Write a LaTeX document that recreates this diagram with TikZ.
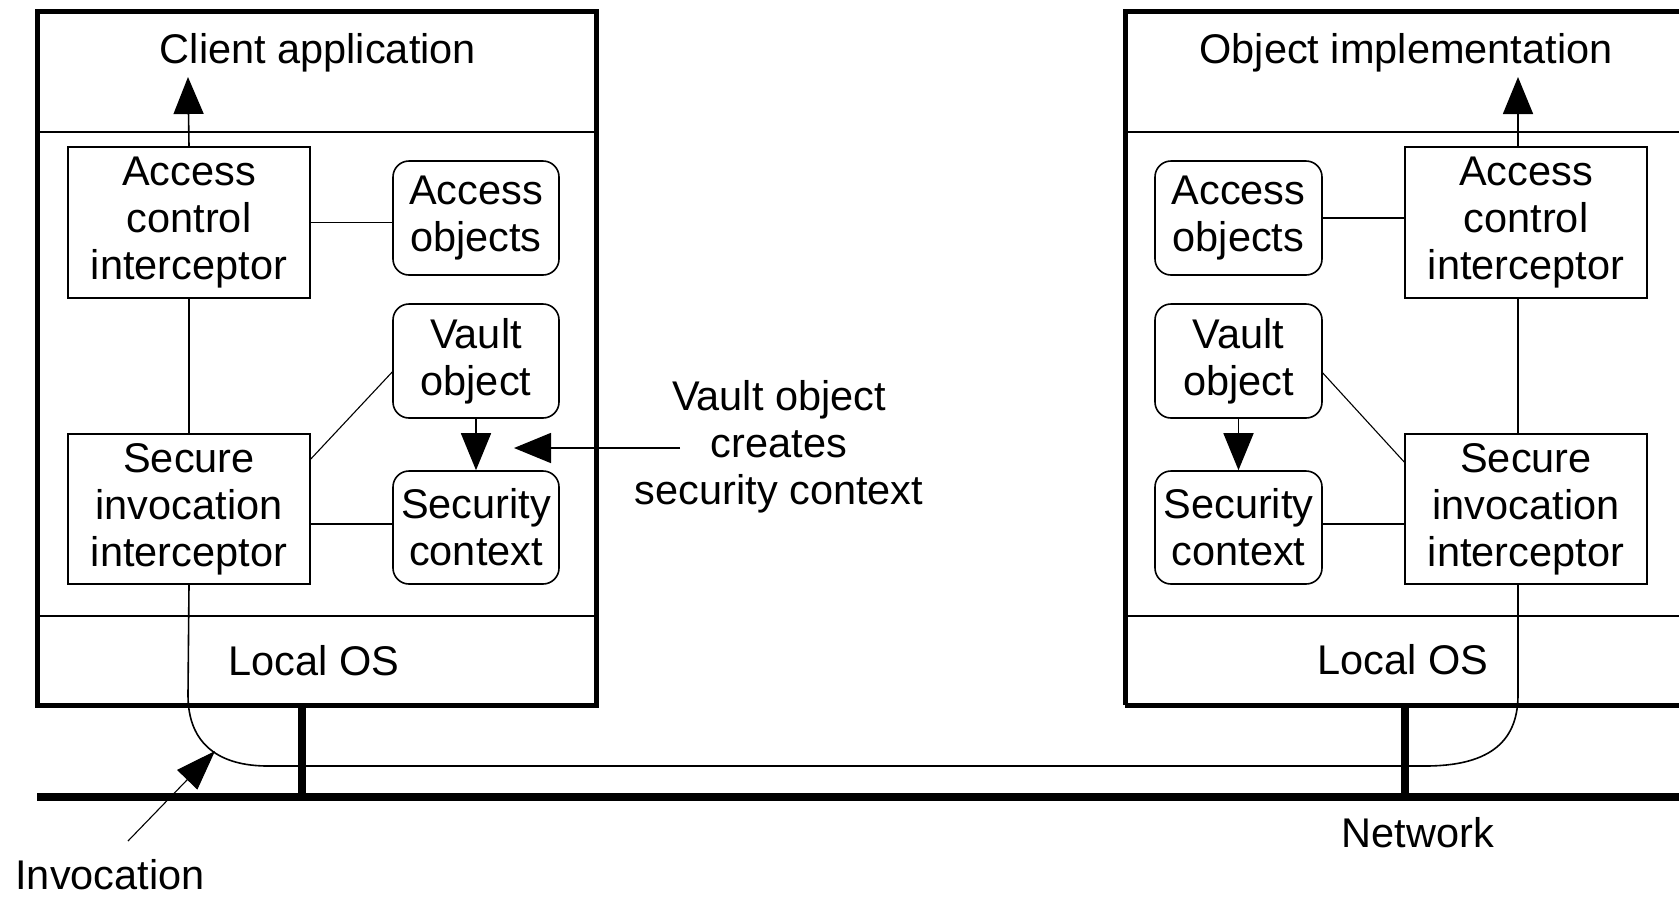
\documentclass[tikz,border=0pt]{standalone}
\usepackage{fontspec}
\setmainfont{Liberation Sans}
\usetikzlibrary{arrows.meta,calc}

\tikzset{
  lbl/.style={font=\fontsize{41.5pt}{47pt}\selectfont, inner sep=0pt, align=center},
  host/.style={line width=5pt},
  layer/.style={line width=1.8pt},
  plainbox/.style={draw, line width=1.6pt, lbl, minimum width=242pt, minimum height=151pt},
  objbox/.style={draw, line width=1.6pt, rounded corners=16pt, lbl, minimum width=166pt, minimum height=114pt},
  link/.style={line width=1.6pt},
  thinlink/.style={line width=1.1pt},
  flow/.style={line width=1.6pt, -{Triangle[length=37pt,width=30pt]}},
  bus/.style={line width=7.5pt},
}

\begin{document}
\begin{tikzpicture}[x=1pt,y=-1pt]
\useasboundingbox (0,0) rectangle (1679,898);
\clip (0,0) rectangle (1679,898);

% ---------- client host ----------
\draw[host] (37,11) rectangle (596,705);
\draw[layer] (37,132) -- (596,132);
\draw[layer] (37,616) -- (596,616);
\node[lbl, anchor=base] (capp) at (318,63) {Client application};
\node[lbl, anchor=base] (los1) at (314,675) {Local OS};

\node[plainbox] (aci1) at (189,222.5) {Access\\control\\interceptor};
\node[plainbox, minimum height=150pt] (sii1) at (189,509) {Secure\\invocation\\interceptor};
\node[objbox] (ao1) at (476,218) {Access\\objects};
\node[objbox] (vo1) at (476,361) {Vault\\object};
\node[objbox, minimum height=113pt] (sc1) at (476,527.5) {Security\\context};

\coordinate (up1) at (188,77);
\draw[flow] (aci1.north) -- (up1);
\draw[link] (aci1.east) -- (aci1.east -| ao1.west);
\draw[link] (aci1.south) -- (sii1.north);
\draw[thinlink] (sii1.east |- 0,459) -- (vo1.west |- 0,372);
\draw[flow] (vo1.south) -- (sc1.north);
\draw[link] (sii1.east |- 0,524) -- (sc1.west |- 0,524);

% ---------- server host ----------
\draw[host] (1125,705) -- (1125,11) -- (1700,11);
\draw[host] (1125,705) -- (1700,705);
\draw[layer] (1125,132) -- (1700,132);
\draw[layer] (1125,616) -- (1700,616);
\node[lbl, anchor=base] (oimpl) at (1406,63) {Object implementation};
\node[lbl, anchor=base] (los2) at (1403,674) {Local OS};

\node[plainbox] (aci2) at (1526,222.5) {Access\\control\\interceptor};
\node[plainbox, minimum height=150pt] (sii2) at (1526,509) {Secure\\invocation\\interceptor};
\node[objbox, minimum width=167pt] (ao2) at (1238.5,218) {Access\\objects};
\node[objbox, minimum width=167pt] (vo2) at (1238.5,361) {Vault\\object};
\node[objbox, minimum width=167pt, minimum height=113pt] (sc2) at (1238.5,527.5) {Security\\context};

\coordinate (spine2) at (1518,0);
\coordinate (up2) at (1518,77);
\draw[flow] (aci2.north -| spine2) -- (up2);
\draw[link] (ao2.east) -- (ao2.east -| aci2.west);
\draw[link] (aci2.south -| spine2) -- (sii2.north -| spine2);
\draw[thinlink] (vo2.east |- 0,373) -- (sii2.west |- 0,462);
\draw[flow] (vo2.south) -- (sc2.north);
\draw[link] (sc2.east |- 0,524) -- (sii2.west |- 0,524);

% ---------- annotation ----------
\node[lbl] (note) at (779,447) {Vault object\\creates\\security context};
\coordinate (noteend) at (680,448);
\coordinate (notetip) at (514,448);
\draw[flow] (noteend) -- (notetip);

% ---------- network ----------
\coordinate (stem1) at (302,705);
\coordinate (stem2) at (1405,705);
\draw[bus] (37,797) -- (1700,797);
\draw[bus] (stem1) -- (stem1 |- 0,797);
\draw[bus] (stem2) -- (stem2 |- 0,797);
\node[lbl, anchor=base] (net) at (1418,847) {Network};

% ---------- invocation path ----------
\draw[link] (sii1.south) -- (188,695)
  .. controls (188,745) and (220,766) .. (268,766)
  -- (1425,766)
  .. controls (1485,766) and (1518,745) .. (1518,695)
  -- (sii2.south -| spine2);

\node[lbl, anchor=base] (inv) at (110,889) {Invocation};
\coordinate (invfrom) at (128,841);
\coordinate (invtip) at (215,751);
\draw[thinlink, -{Triangle[length=40pt,width=28pt]}] (invfrom) -- (invtip);
\end{tikzpicture}
\end{document}
